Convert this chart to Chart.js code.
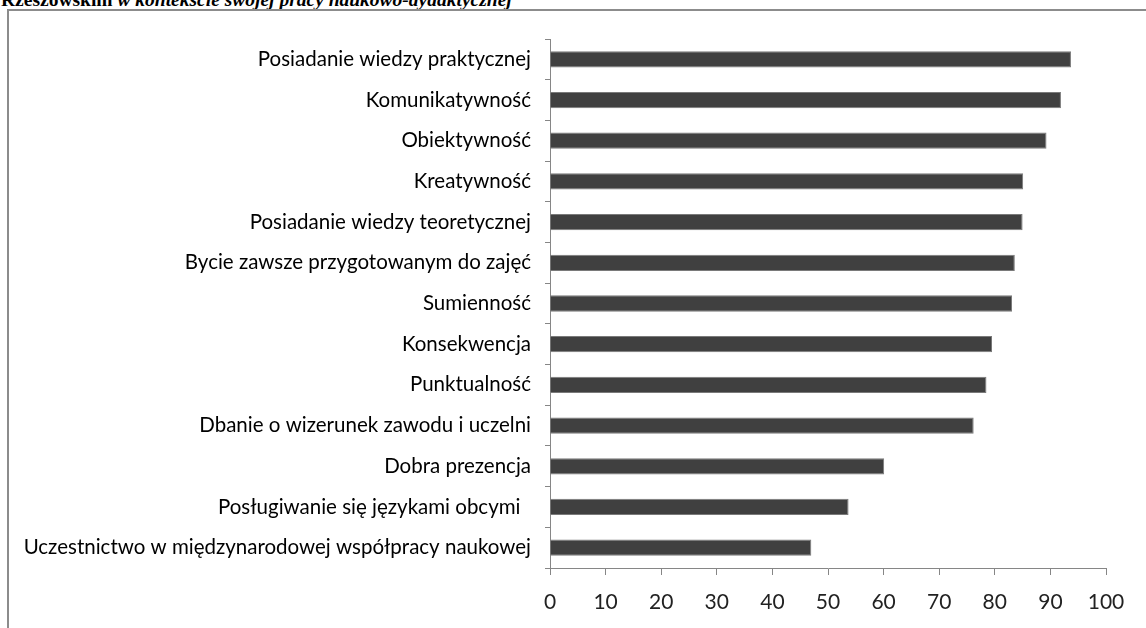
<!DOCTYPE html>
<html lang="pl">
<head>
    <meta charset="UTF-8">
    <title>Cechy nauczyciela akademickiego</title>
    <script src="https://cdn.jsdelivr.net/npm/chart.js"></script>
    <style>
        html, body { margin: 0; padding: 0; background: #fff; }
        body { width: 1146px; height: 628px; position: relative; overflow: hidden; }
        .caption {
            position: absolute; left: 1px; top: -10px;
            font-family: 'Liberation Serif', serif; font-size: 19.5px; font-weight: bold;
            line-height: 19px; white-space: nowrap; color: #000;
        }
        .frame {
            position: absolute; left: 7px; top: 9px; width: 1160px; height: 640px;
            border: 2px solid #8c8c8c; box-sizing: border-box;
        }
        .chart-box { position: absolute; left: 0; top: 0; width: 1146px; height: 628px; }
    </style>
</head>
<body>
    <div class="caption">Rzeszowskim <i>w kontekście swojej pracy naukowo-dydaktycznej</i></div>
    <div class="frame"></div>
    <div class="chart-box"><canvas id="cechyChart" width="1146" height="628"></canvas></div>
    <script>
        // kategorie od góry do dołu
        const kategorie = [
            'Posiadanie wiedzy praktycznej',
            'Komunikatywność',
            'Obiektywność',
            'Kreatywność',
            'Posiadanie wiedzy teoretycznej',
            'Bycie zawsze przygotowanym do zajęć',
            'Sumienność',
            'Konsekwencja',
            'Punktualność',
            'Dbanie o wizerunek zawodu i uczelni',
            'Dobra prezencja',
            'Posługiwanie się językami obcymi  ',
            'Uczestnictwo w międzynarodowej współpracy naukowej'
        ];
        const wartosci = [93.7, 91.9, 89.3, 85.1, 85.0, 83.6, 83.1, 79.5, 78.5, 76.2, 60.1, 53.7, 47.0];
        const osX = [0, 10, 20, 30, 40, 50, 60, 70, 80, 90, 100];

        const ctx = document.getElementById('cechyChart').getContext('2d');
        new Chart(ctx, {
            type: 'bar',
            data: {
                labels: kategorie,
                datasets: [{
                    data: wartosci,
                    backgroundColor: '#404040',
                    borderColor: '#7a7a7a',
                    borderWidth: 1,
                    categoryPercentage: 1,
                    barPercentage: 0.4
                }]
            },
            options: {
                indexAxis: 'y',
                responsive: false,
                animation: false,
                layout: { padding: { left: 0, right: 40, top: 39, bottom: 0 } },
                plugins: { legend: { display: false }, tooltip: { enabled: false } },
                scales: {
                    x: {
                        min: osX[0],
                        max: osX[osX.length - 1],
                        afterBuildTicks: (scale) => { scale.ticks = osX.map(v => ({ value: v })); },
                        afterFit: (scale) => { scale.height = 60; },
                        grid: { drawOnChartArea: false, drawTicks: true, tickLength: 7, color: '#868686' },
                        border: { display: true, color: '#868686', width: 1 },
                        ticks: {
                            padding: 15,
                            color: '#222',
                            font: { family: 'Lato', size: 21 },
                            maxRotation: 0
                        }
                    },
                    y: {
                        afterFit: (scale) => { scale.width = 550; },
                        grid: { drawOnChartArea: false, drawTicks: true, tickLength: 5, offset: true, color: '#868686' },
                        border: { display: true, color: '#868686', width: 1 },
                        ticks: {
                            padding: 14,
                            color: '#000',
                            font: { family: 'Lato', size: 20.5 },
                            autoSkip: false
                        }
                    }
                }
            }
        });
    </script>
</body>
</html>
